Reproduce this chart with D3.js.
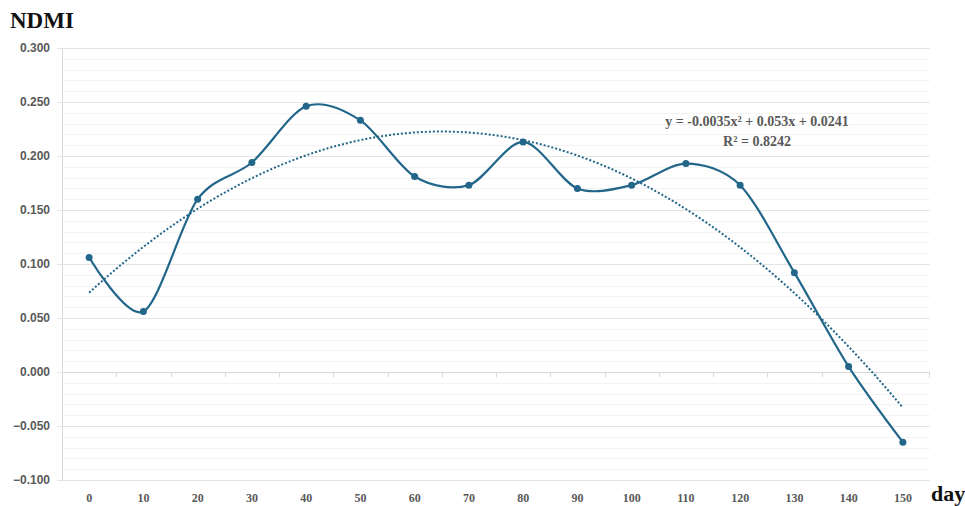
<!DOCTYPE html>
<html>
<head>
<meta charset="utf-8">
<script src="https://cdn.jsdelivr.net/npm/d3@7"></script>
<style>
  body { margin: 0; background: #fff; }
  svg { display: block; font-family: "Liberation Serif", "DejaVu Serif", serif; }
</style>
</head>
<body>
<svg id="chart" width="965" height="506"></svg>
<script>
// values
const days = [0, 10, 20, 30, 40, 50, 60, 70, 80, 90, 100, 110, 120, 130, 140, 150];
const ndmi = [0.106, 0.056, 0.160, 0.194, 0.246, 0.233, 0.181, 0.173, 0.213, 0.170, 0.173, 0.193, 0.173, 0.092, 0.005, -0.065];
const yTicks = [-0.1, -0.05, 0, 0.05, 0.1, 0.15, 0.2, 0.25, 0.3];
const equationLines = ["y = -0.0035x² + 0.053x + 0.0241", "R² = 0.8242"];

const color = "#22668a";

const svg = d3.select("#chart"),
  margin = { top: 48, right: 35, bottom: 26, left: 62 },
  width = +svg.attr("width") - margin.left - margin.right,
  height = +svg.attr("height") - margin.top - margin.bottom;

const g = svg.append("g").attr("transform", `translate(${margin.left},${margin.top})`);

const x = d3.scaleBand().domain(days).range([0, width]);
const y = d3.scaleLinear().domain([-0.1, 0.3]).range([height, 0]);
const cx = (d) => x(d) + x.bandwidth() / 2;

// minor gridlines every 0.01
const minor = d3.range(-10, 31).map((i) => i / 100).filter((v) => Math.round(v * 100) % 5 !== 0);
g.append("g")
  .selectAll("line")
  .data(minor)
  .join("line")
  .attr("x1", 0)
  .attr("x2", width)
  .attr("y1", (d) => Math.round(y(d)) + 0.5)
  .attr("y2", (d) => Math.round(y(d)) + 0.5)
  .attr("stroke", "#f3f3f3");

// y axis w/ major gridlines
const gy = g.append("g").call(
  d3.axisLeft(y).tickValues(yTicks).tickSize(-width).tickPadding(12).tickFormat(d3.format(".3f"))
);
gy.select(".domain").remove();
gy.selectAll(".tick line").attr("stroke", "#e4e4e4").attr("x1", -5);
gy.selectAll(".tick text")
  .attr("fill", "#595959")
  .style("font-size", "12px")
  .style("font-weight", "bold");

// left axis line
g.append("line")
  .attr("x1", 0.5).attr("x2", 0.5)
  .attr("y1", 0).attr("y2", height)
  .attr("stroke", "#d9d9d9");

// category axis sitting on zero
const zeroY = Math.round(y(0)) + 0.5;
g.append("line")
  .attr("x1", 0).attr("x2", width)
  .attr("y1", zeroY).attr("y2", zeroY)
  .attr("stroke", "#d9d9d9");
g.append("g")
  .selectAll("line")
  .data(days.slice(1))
  .join("line")
  .attr("x1", (d) => Math.round(x(d)) + 0.5)
  .attr("x2", (d) => Math.round(x(d)) + 0.5)
  .attr("y1", zeroY)
  .attr("y2", zeroY + 5)
  .attr("stroke", "#d9d9d9");
g.append("line")
  .attr("x1", width - 0.5).attr("x2", width - 0.5)
  .attr("y1", zeroY).attr("y2", zeroY + 5)
  .attr("stroke", "#d9d9d9");

// x labels under the plot
g.append("g")
  .selectAll("text")
  .data(days)
  .join("text")
  .attr("x", cx)
  .attr("y", height + 22)
  .attr("text-anchor", "middle")
  .attr("fill", "#595959")
  .style("font-size", "12px")
  .style("font-weight", "bold")
  .text((d) => d);

// polynomial trendline (order 2) fitted like excel, x = 1..n
function polyFit(ys) {
  const xs = ys.map((_, i) => i + 1);
  const s = (f) => d3.sum(xs, f);
  const n = xs.length;
  const A = [
    [n, s((v) => v), s((v) => v * v)],
    [s((v) => v), s((v) => v * v), s((v) => v ** 3)],
    [s((v) => v * v), s((v) => v ** 3), s((v) => v ** 4)],
  ];
  const b = [d3.sum(ys), d3.sum(ys, (v, i) => v * xs[i]), d3.sum(ys, (v, i) => v * xs[i] * xs[i])];
  // gaussian elimination
  for (let i = 0; i < 3; i++) {
    for (let k = i + 1; k < 3; k++) {
      const f = A[k][i] / A[i][i];
      for (let j = i; j < 3; j++) A[k][j] -= f * A[i][j];
      b[k] -= f * b[i];
    }
  }
  const c = [0, 0, 0];
  for (let i = 2; i >= 0; i--) {
    let acc = b[i];
    for (let j = i + 1; j < 3; j++) acc -= A[i][j] * c[j];
    c[i] = acc / A[i][i];
  }
  return c;
}
const coef = polyFit(ndmi);
const trendPts = d3.range(0, days.length - 1 + 0.001, 0.05).map((t) => {
  const xi = t + 1;
  return [cx(days[0]) + t * x.step(), y(coef[0] + coef[1] * xi + coef[2] * xi * xi)];
});
g.append("path")
  .attr("d", d3.line()(trendPts))
  .attr("fill", "none")
  .attr("stroke", color)
  .attr("stroke-width", 2)
  .attr("stroke-dasharray", "2,2");

// data line
g.append("path")
  .datum(days.map((d, i) => [d, ndmi[i]]))
  .attr("fill", "none")
  .attr("stroke", color)
  .attr("stroke-width", 2.2)
  .attr("d", d3.line().curve(d3.curveCardinal.tension(0.1)).x((d) => cx(d[0])).y((d) => y(d[1])));

g.append("g")
  .selectAll("circle")
  .data(days)
  .join("circle")
  .attr("cx", cx)
  .attr("cy", (d, i) => y(ndmi[i]))
  .attr("r", 3.5)
  .attr("fill", color);

// equation label
svg.append("text")
  .attr("x", 757)
  .attr("y", 126)
  .attr("text-anchor", "middle")
  .attr("fill", "#595959")
  .style("font-size", "14px")
  .style("font-weight", "bold")
  .selectAll("tspan")
  .data(equationLines)
  .join("tspan")
  .attr("x", 757)
  .attr("dy", (d, i) => (i ? 20 : 0))
  .text((d) => d);

// axis titles
svg.append("text")
  .attr("x", 10)
  .attr("y", 28)
  .attr("fill", "#111")
  .style("font-size", "23px")
  .style("font-weight", "bold")
  .text("NDMI");
svg.append("text")
  .attr("x", 931)
  .attr("y", 501)
  .attr("fill", "#111")
  .style("font-size", "22px")
  .style("font-weight", "bold")
  .text("day");
</script>
</body>
</html>
